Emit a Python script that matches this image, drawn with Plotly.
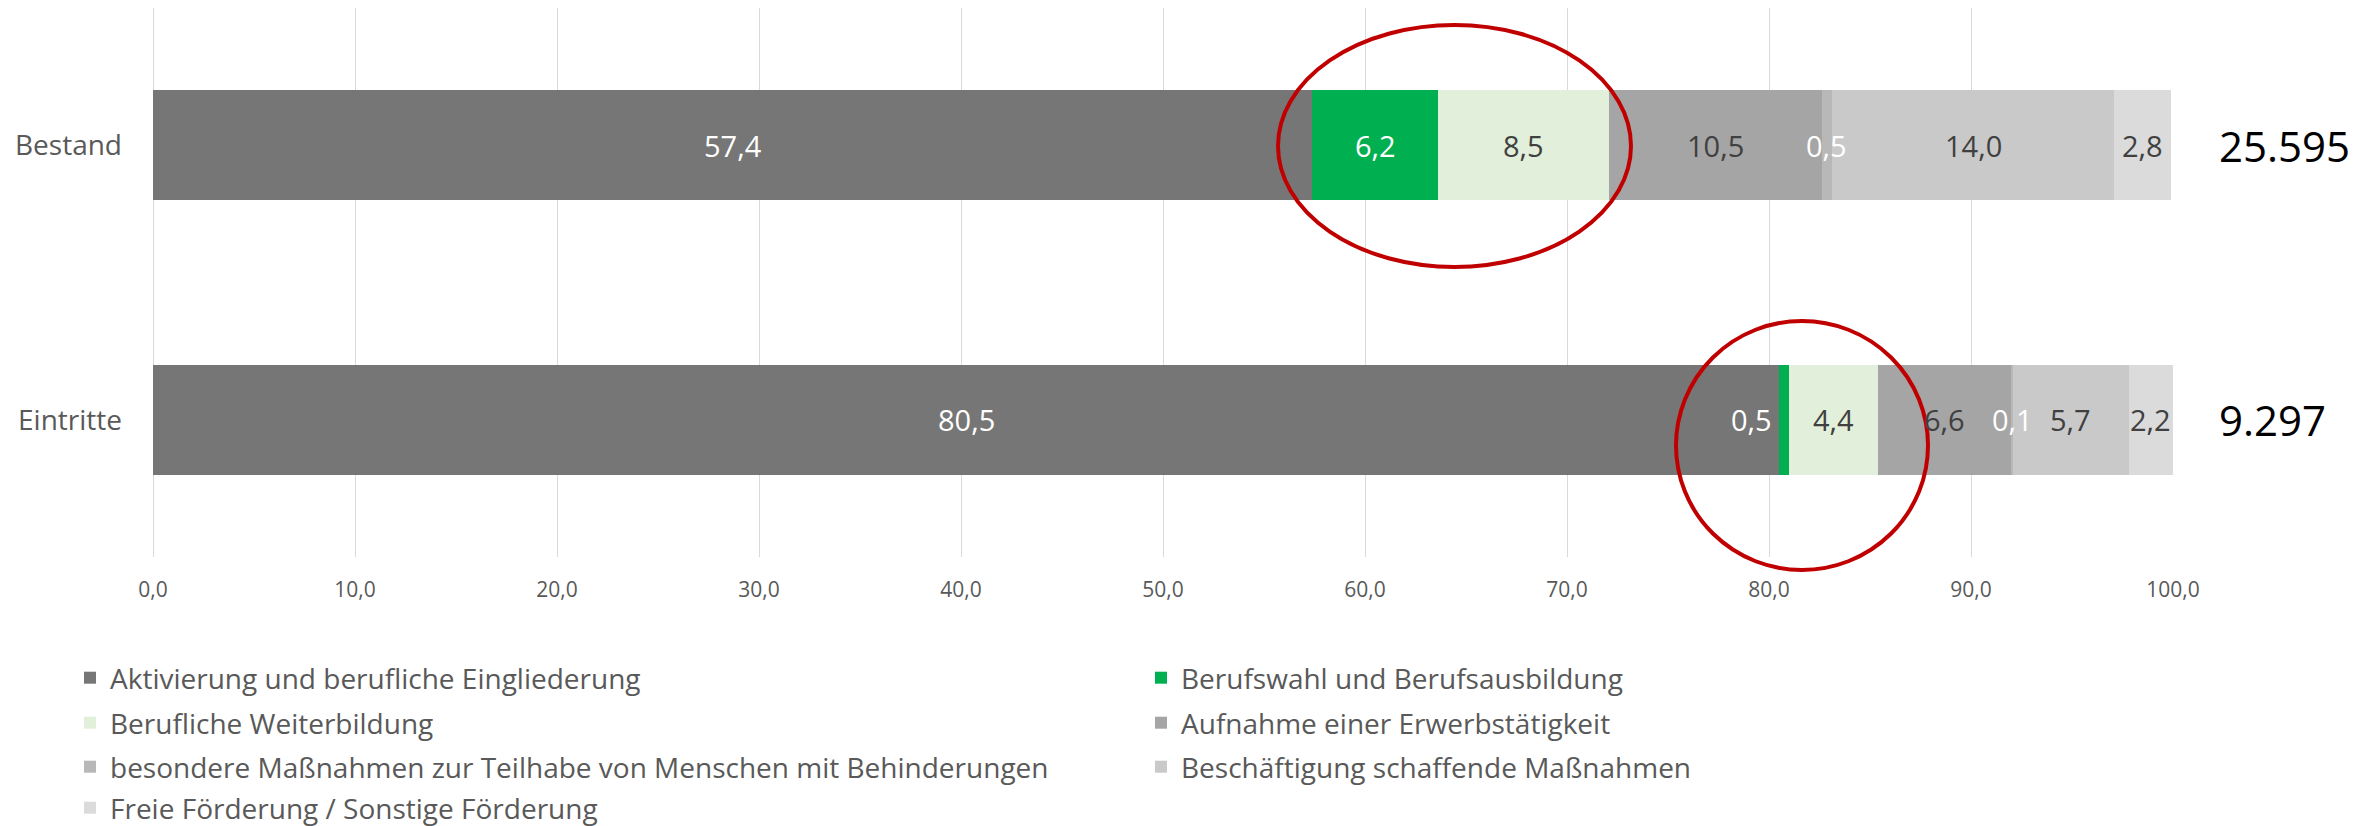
import plotly.graph_objects as go

# ---- data ----
categories = ["Bestand", "Eintritte"]
series_names = [
    "Aktivierung und berufliche Eingliederung",
    "Berufswahl und Berufsausbildung",
    "Berufliche Weiterbildung",
    "Aufnahme einer Erwerbstätigkeit",
    "besondere Maßnahmen zur Teilhabe von Menschen mit Behinderungen",
    "Beschäftigung schaffende Maßnahmen",
    "Freie Förderung / Sonstige Förderung",
]
bestand_values = [57.4, 6.2, 8.5, 10.5, 0.5, 14.0, 2.8]
eintritte_values = [80.5, 0.5, 4.4, 6.6, 0.1, 5.7, 2.2]
totals = [25595, 9297]
x_ticks = [0, 10, 20, 30, 40, 50, 60, 70, 80, 90, 100]

# ---- style ----
colors = ["#767676", "#00B050", "#E2EFDA", "#A5A5A5", "#B8B8B8", "#C9C9C9", "#DBDBDB"]
label_colors = ["#FFFFFF", "#FFFFFF", "#404040", "#404040", "#FFFFFF", "#404040", "#404040"]
FONT = "Open Sans"
W, H = 2369, 826
L, R, T, B = 153, 196, 8, 269
PW = W - L - R
PH = H - T - B

values_by_cat = {"Bestand": bestand_values, "Eintritte": eintritte_values}
# labels that sit just left of their (too thin) segment instead of centred
left_placed = {(1, "Eintritte")}

legend_rows = [0, 0, 1, 1, 2, 2, 3]
legend_ids = ["legend", "legend2", "legend3", "legend4"]

fig = go.Figure()
for i, name in enumerate(series_names):
    fig.add_trace(go.Bar(
        name=name,
        y=categories,
        x=[values_by_cat[c][i] for c in categories],
        orientation="h",
        marker=dict(color=colors[i], line=dict(width=0)),
        legend=legend_ids[legend_rows[i]],
        hoverinfo="x+name",
    ))

annotations = []
for c in categories:
    vals = values_by_cat[c]
    cum = 0.0
    for i, v in enumerate(vals):
        txt = f"{v:.1f}".replace(".", ",")
        if (i, c) in left_placed:
            annotations.append(dict(x=cum, y=c, xref="x", yref="y", text=txt,
                                    showarrow=False, xanchor="right", xshift=-5,
                                    font=dict(family=FONT, size=29, color=label_colors[i])))
        else:
            annotations.append(dict(x=cum + v / 2, y=c, xref="x", yref="y", text=txt,
                                    showarrow=False, xanchor="center",
                                    font=dict(family=FONT, size=29, color=label_colors[i])))
        cum += v

for c, t in zip(categories, totals):
    annotations.append(dict(x=1 + 44 / PW, y=c, xref="paper", yref="y",
                            text=f"{t:,}".replace(",", "."), showarrow=False,
                            xanchor="left", font=dict(family=FONT, size=42, color="#000000")))

def px_to_paper_x(px):
    return (px - L) / PW

def px_to_paper_y(py):
    return (T + PH - py) / PH

ellipses = [(1278, 25, 1631, 267), (1676, 321, 1928, 570)]
shapes = []
for (x0, y0, x1, y1) in ellipses:
    shapes.append(dict(type="circle", xref="paper", yref="paper",
                       x0=px_to_paper_x(x0), x1=px_to_paper_x(x1),
                       y0=px_to_paper_y(y1), y1=px_to_paper_y(y0),
                       line=dict(color="#C00000", width=4), layer="above"))

legend_row_px = [678, 723, 767, 808]
legend_common = dict(orientation="h", xanchor="left", yanchor="middle",
                     x=px_to_paper_x(70), entrywidth=1026, entrywidthmode="pixels",
                     font=dict(family=FONT, size=28, color="#595959"),
                     bgcolor="rgba(0,0,0,0)", traceorder="normal")
layout_legends = {}
for k, lid in enumerate(legend_ids):
    layout_legends[lid] = dict(legend_common, y=px_to_paper_y(legend_row_px[k]))

fig.update_layout(
    width=W, height=H,
    margin=dict(l=L, r=R, t=T, b=B, pad=0, autoexpand=False),
    paper_bgcolor="white", plot_bgcolor="white",
    barmode="stack", bargap=0.6,
    separators=",.",
    font=dict(family=FONT, color="#595959"),
    showlegend=True,
    annotations=annotations,
    shapes=shapes,
    **layout_legends,
)
fig.update_xaxes(range=[0, 100], tickvals=x_ticks, tickformat=".1f",
                 showgrid=True, gridcolor="#D9D9D9", gridwidth=1,
                 zeroline=True, zerolinecolor="#D9D9D9", zerolinewidth=1,
                 showline=False, ticks="", ticklabelstandoff=18, automargin=False,
                 tickfont=dict(family=FONT, size=21, color="#595959"), fixedrange=True)
fig.update_yaxes(categoryorder="array", categoryarray=["Eintritte", "Bestand"],
                 range=[-0.5, 1.5], showgrid=False, zeroline=False, showline=False,
                 ticks="", ticklabelstandoff=30, automargin=False,
                 tickfont=dict(family=FONT, size=28, color="#595959"), fixedrange=True)

fig.write_html("out.html", config={"displayModeBar": False},
               post_script="document.body.style.margin='0';document.body.style.overflow='hidden';")
